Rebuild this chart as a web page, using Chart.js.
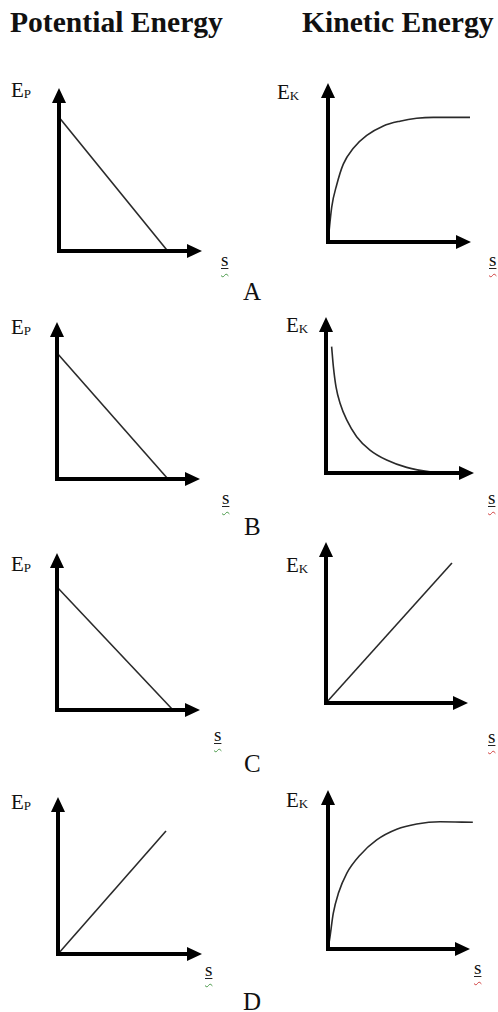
<!DOCTYPE html>
<html>
<head>
<meta charset="utf-8">
<script src="https://cdn.jsdelivr.net/npm/chart.js"></script>
<style>
  html, body { margin: 0; padding: 0; background: #fff; }
  body { width: 498px; height: 1012px; position: relative; overflow: hidden; font-family: "Liberation Serif", "DejaVu Serif", serif; color: #111; }
  .t { position: absolute; white-space: nowrap; line-height: 1; }
  .title { font-weight: bold; font-size: 29.6px; }
  .lab { font-size: 21px; }
  .lab sub { font-size: 13px; vertical-align: -1px; }
  .s { font-size: 19px; text-decoration: underline wavy; text-underline-offset: 7px; text-decoration-thickness: 1px; }
  .s u { text-decoration: underline solid #222; text-underline-offset: 2px; }
  .s.g { text-decoration-color: #4a9a4a; }
  .s.r { text-decoration-color: #d04040; }
  .let { font-size: 25px; }
  canvas { position: absolute; }
</style>
</head>
<body>
<div class="t title" style="left:10px;top:8px;">Potential Energy</div>
<div class="t title" style="left:302px;top:8px;">Kinetic Energy</div>

<div class="t lab" style="left:11px;top:80px;">E<sub>P</sub></div>
<div class="t lab" style="left:277px;top:82px;">E<sub>K</sub></div>
<div class="t s g" style="left:221px;top:250px;"><u>s</u></div>
<div class="t s r" style="left:489px;top:250px;"><u>s</u></div>
<div class="t let" style="left:243px;top:279px;">A</div>

<div class="t lab" style="left:11px;top:317px;">E<sub>P</sub></div>
<div class="t lab" style="left:286px;top:315px;">E<sub>K</sub></div>
<div class="t s g" style="left:222px;top:488px;"><u>s</u></div>
<div class="t s r" style="left:488px;top:488px;"><u>s</u></div>
<div class="t let" style="left:244px;top:514px;">B</div>

<div class="t lab" style="left:11px;top:554px;">E<sub>P</sub></div>
<div class="t lab" style="left:286px;top:555px;">E<sub>K</sub></div>
<div class="t s g" style="left:214px;top:725px;"><u>s</u></div>
<div class="t s r" style="left:488px;top:727px;"><u>s</u></div>
<div class="t let" style="left:244px;top:751px;">C</div>

<div class="t lab" style="left:11px;top:792px;">E<sub>P</sub></div>
<div class="t lab" style="left:286px;top:790px;">E<sub>K</sub></div>
<div class="t s g" style="left:205px;top:960px;"><u>s</u></div>
<div class="t s r" style="left:474px;top:958px;"><u>s</u></div>
<div class="t let" style="left:243px;top:989px;">D</div>

<script>
// ---- Data (units: 0..10 along each axis up to the arrow tip) ----
const peA_s = [0, 7.6];
const peA_E = [8.2, 0];
const keA_s = [0, 0.26, 0.61, 1.07, 1.77, 2.71, 3.87, 5.03, 6.2, 7.37, 9.93];
const keA_E = [0, 2.2, 3.6, 4.9, 5.9, 6.7, 7.3, 7.6, 7.78, 7.84, 7.84];

const peB_s = [0, 7.76];
const peB_E = [8.03, 0];
const keB_s = [0.38, 0.5, 0.68, 0.95, 1.4, 2.07, 2.97, 4.1, 5.45, 7.03, 8.38];
const keB_E = [8.1, 6.8, 5.5, 4.47, 3.4, 2.33, 1.47, 0.83, 0.36, 0.08, 0];

const peC_s = [0, 8.11];
const peC_E = [7.83, 0];
const keC_s = [0, 8.87];
const keC_E = [0, 8.7];

const peD_s = [0, 7.5];
const peD_E = [0, 7.83];
const keD_s = [0, 0.14, 0.37, 0.73, 1.32, 2.25, 3.43, 4.84, 6.25, 7.89, 10.2];
const keD_E = [0, 0.77, 2.24, 3.5, 4.76, 5.9, 6.86, 7.53, 7.86, 8.0, 7.97];

const axisMin = 0;
const axisMax = 10;

// ---- Layout (pixel positions of axis origin and arrow tips) ----
const panels = [
  { ox: 59,  oy: 251, tx: 202, ty: 88,  s: peA_s, e: peA_E, curve: false },
  { ox: 328, oy: 242, tx: 471, ty: 83,  s: keA_s, e: keA_E, curve: true },
  { ox: 57,  oy: 479, tx: 200, ty: 322, s: peB_s, e: peB_E, curve: false },
  { ox: 326, oy: 473, tx: 474, ty: 317, s: keB_s, e: keB_E, curve: true },
  { ox: 57,  oy: 710, tx: 200, ty: 553, s: peC_s, e: peC_E, curve: false },
  { ox: 326, oy: 703, tx: 468, ty: 542, s: keC_s, e: keC_E, curve: false },
  { ox: 58,  oy: 954, tx: 202, ty: 797, s: peD_s, e: peD_E, curve: false },
  { ox: 328, oy: 949, tx: 470, ty: 790, s: keD_s, e: keD_E, curve: true }
];

const arrowAxes = {
  id: 'arrowAxes',
  afterDatasetsDraw(chart) {
    const { ctx } = chart;
    const x0 = chart.scales.x.getPixelForValue(axisMin);
    const y0 = chart.scales.y.getPixelForValue(axisMin);
    const xt = chart.scales.x.getPixelForValue(axisMax);
    const yt = chart.scales.y.getPixelForValue(axisMax);
    const L = 15, W = 7;
    ctx.save();
    ctx.strokeStyle = '#000';
    ctx.fillStyle = '#000';
    ctx.lineWidth = 4;
    ctx.lineCap = 'square';
    ctx.beginPath();
    ctx.moveTo(x0, yt + L - 1);
    ctx.lineTo(x0, y0);
    ctx.lineTo(xt - L + 1, y0);
    ctx.stroke();
    ctx.beginPath();
    ctx.moveTo(x0, yt);
    ctx.lineTo(x0 - W, yt + L);
    ctx.lineTo(x0 + W, yt + L);
    ctx.closePath();
    ctx.fill();
    ctx.beginPath();
    ctx.moveTo(xt, y0);
    ctx.lineTo(xt - L, y0 - W);
    ctx.lineTo(xt - L, y0 + W);
    ctx.closePath();
    ctx.fill();
    ctx.restore();
  }
};

const pad = 12;
panels.forEach(p => {
  const c = document.createElement('canvas');
  const w = p.tx - p.ox + 2 * pad;
  const h = p.oy - p.ty + 2 * pad;
  c.width = w; c.height = h;
  c.style.left = (p.ox - pad) + 'px';
  c.style.top = (p.ty - pad) + 'px';
  c.style.width = w + 'px';
  c.style.height = h + 'px';
  document.body.appendChild(c);
  new Chart(c, {
    type: 'scatter',
    data: {
      datasets: [{
        data: p.s.map((v, i) => ({ x: v, y: p.e[i] })),
        showLine: true,
        borderColor: '#2a2a2a',
        borderWidth: 1.6,
        pointRadius: 0,
        cubicInterpolationMode: p.curve ? 'monotone' : 'default',
        clip: false
      }]
    },
    options: {
      responsive: false,
      animation: false,
      devicePixelRatio: 1,
      layout: { padding: pad },
      plugins: { legend: { display: false }, tooltip: { enabled: false } },
      scales: {
        x: { type: 'linear', min: axisMin, max: axisMax, display: false },
        y: { type: 'linear', min: axisMin, max: axisMax, display: false }
      }
    },
    plugins: [arrowAxes]
  });
});
</script>
</body>
</html>
